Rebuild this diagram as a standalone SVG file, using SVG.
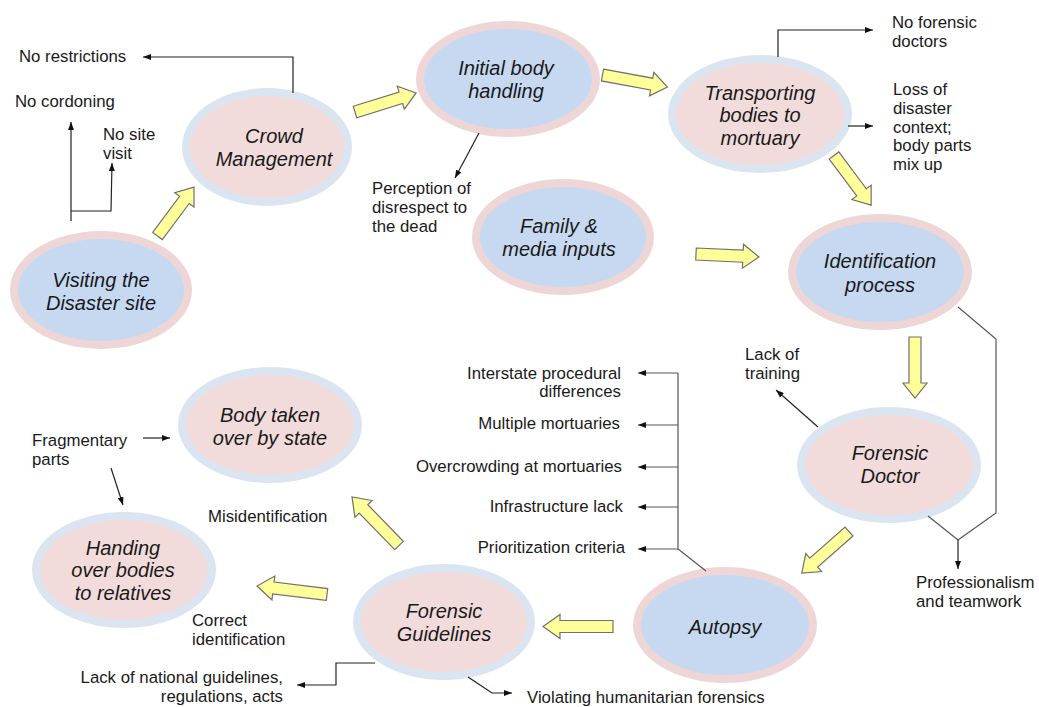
<svg xmlns="http://www.w3.org/2000/svg" width="1039" height="707" viewBox="0 0 1039 707">
<style>
.pk{fill:#f2dcdb}
.bl{fill:#c6d9f1}
.lb{fill:#dbe5f1}
.pr{fill:#efd6d6}
.nt{font-family:"Liberation Sans",Arial,sans-serif;font-size:20px;font-style:italic;fill:#1a1a1a;text-anchor:middle}
.lt{font-family:"Liberation Sans",Arial,sans-serif;font-size:16.8px;fill:#1a1a1a}
.ra{text-anchor:end}
.ya{fill:#ffff99;stroke:#707070;stroke-width:1.2}
.cn{fill:none;stroke:#222;stroke-width:1.2}
.cg{fill:none;stroke:#555;stroke-width:1.2}
</style>
<defs>
<marker id="ah" viewBox="0 0 8 6" refX="8" refY="3" markerWidth="8" markerHeight="6" markerUnits="userSpaceOnUse" orient="auto"><path d="M0,0 L8,3 L0,6 z" fill="#111"/></marker>
</defs>
<rect width="1039" height="707" fill="#fff"/>

<g id="n-visiting">
<ellipse cx="101" cy="290" rx="91" ry="59" class="pr"/>
<ellipse cx="101" cy="290" rx="83" ry="51" class="bl"/>
<text class="nt" x="101" y="287">Visiting the</text>
<text class="nt" x="101" y="310">Disaster site</text>
</g>
<g id="n-crowd">
<ellipse cx="267" cy="147" rx="85" ry="59" class="lb"/>
<ellipse cx="267" cy="147" rx="77" ry="51" class="pk"/>
<text class="nt" x="274" y="143">Crowd</text>
<text class="nt" x="274" y="166">Management</text>
</g>
<g id="n-initial">
<ellipse cx="508" cy="79" rx="92" ry="58" class="pr"/>
<ellipse cx="508" cy="79" rx="84" ry="50" class="bl"/>
<text class="nt" x="506" y="75">Initial body</text>
<text class="nt" x="506" y="98">handling</text>
</g>
<g id="n-transport">
<ellipse cx="760" cy="114" rx="92" ry="59" class="lb"/>
<ellipse cx="760" cy="114" rx="84" ry="51" class="pk"/>
<text class="nt" x="760" y="100">Transporting</text>
<text class="nt" x="760" y="122">bodies to</text>
<text class="nt" x="760" y="145">mortuary</text>
</g>
<g id="n-family">
<ellipse cx="563" cy="237" rx="91" ry="58" class="pr"/>
<ellipse cx="563" cy="237" rx="83" ry="50" class="bl"/>
<text class="nt" x="559" y="233">Family &amp;</text>
<text class="nt" x="559" y="256">media inputs</text>
</g>
<g id="n-ident">
<ellipse cx="880" cy="272" rx="92" ry="58" class="pr"/>
<ellipse cx="880" cy="272" rx="84" ry="50" class="bl"/>
<text class="nt" x="880" y="268">Identification</text>
<text class="nt" x="880" y="292">process</text>
</g>
<g id="n-doctor">
<ellipse cx="889" cy="465" rx="92" ry="58" class="lb"/>
<ellipse cx="889" cy="465" rx="84" ry="50" class="pk"/>
<text class="nt" x="890" y="460">Forensic</text>
<text class="nt" x="890" y="483">Doctor</text>
</g>
<g id="n-autopsy">
<ellipse cx="725" cy="625" rx="92" ry="58" class="pr"/>
<ellipse cx="725" cy="625" rx="84" ry="50" class="bl"/>
<text class="nt" x="725" y="634">Autopsy</text>
</g>
<g id="n-guidelines">
<ellipse cx="444" cy="622" rx="91" ry="58" class="lb"/>
<ellipse cx="444" cy="622" rx="83" ry="50" class="pk"/>
<text class="nt" x="444" y="618">Forensic</text>
<text class="nt" x="444" y="641">Guidelines</text>
</g>
<g id="n-state">
<ellipse cx="270" cy="425" rx="92" ry="58" class="lb"/>
<ellipse cx="270" cy="425" rx="84" ry="50" class="pk"/>
<text class="nt" x="270" y="422">Body taken</text>
<text class="nt" x="270" y="445">over by state</text>
</g>
<g id="n-handing">
<ellipse cx="124" cy="570" rx="92" ry="58" class="lb"/>
<ellipse cx="124" cy="570" rx="84" ry="50" class="pk"/>
<text class="nt" x="123" y="555">Handing</text>
<text class="nt" x="123" y="577">over bodies</text>
<text class="nt" x="123" y="600">to relatives</text>
</g>

<g id="labels">
<text class="lt" x="19" y="62">No restrictions</text>
<text class="lt" x="15" y="107">No cordoning</text>
<text class="lt" x="103" y="140">No site</text>
<text class="lt" x="103" y="159">visit</text>
<text class="lt" x="372" y="194">Perception of</text>
<text class="lt" x="372" y="213">disrespect to</text>
<text class="lt" x="372" y="232">the dead</text>
<text class="lt" x="892" y="28">No forensic</text>
<text class="lt" x="892" y="47">doctors</text>
<text class="lt" x="893" y="95">Loss of</text>
<text class="lt" x="893" y="114">disaster</text>
<text class="lt" x="893" y="133">context;</text>
<text class="lt" x="893" y="151">body parts</text>
<text class="lt" x="893" y="170">mix up</text>
<text class="lt" x="745" y="360">Lack of</text>
<text class="lt" x="745" y="379">training</text>
<text class="lt" x="916" y="588">Professionalism</text>
<text class="lt" x="916" y="607">and teamwork</text>
<text class="lt ra" x="621" y="379">Interstate procedural</text>
<text class="lt ra" x="621" y="397">differences</text>
<text class="lt ra" x="620" y="429">Multiple mortuaries</text>
<text class="lt ra" x="622" y="472">Overcrowding at mortuaries</text>
<text class="lt ra" x="623" y="512">Infrastructure lack</text>
<text class="lt ra" x="625" y="553">Prioritization criteria</text>
<text class="lt" x="32" y="446">Fragmentary</text>
<text class="lt" x="32" y="465">parts</text>
<text class="lt" x="208" y="522">Misidentification</text>
<text class="lt" x="192" y="626">Correct</text>
<text class="lt" x="192" y="645">identification</text>
<text class="lt ra" x="283" y="683">Lack of national guidelines,</text>
<text class="lt ra" x="283" y="702">regulations, acts</text>
<text class="lt" x="527" y="703">Violating humanitarian forensics</text>
</g>

<g id="flow-arrows" class="ya">
<polygon points="0,-6 45,-6 45,-12 61,0 45,12 45,6 0,6" transform="translate(157.5,236) rotate(-53.3)"/>
<polygon points="0,-6 48,-6 48,-12 64,0 48,12 48,6 0,6" transform="translate(355,112) rotate(-17.3)"/>
<polygon points="0,-6 50,-6 50,-12 66,0 50,12 50,6 0,6" transform="translate(602.5,75) rotate(10.5)"/>
<polygon points="0,-6 46,-6 46,-12 62,0 46,12 46,6 0,6" transform="translate(834,155.5) rotate(53.2)"/>
<polygon points="0,-6 47,-6 47,-12 63,0 47,12 47,6 0,6" transform="translate(696,254) rotate(2.7)"/>
<polygon points="0,-6 46,-6 46,-12 61,0 46,12 46,6 0,6" transform="translate(915,337) rotate(90)"/>
<polygon points="0,-6 47,-6 47,-12 63,0 47,12 47,6 0,6" transform="translate(849,531.5) rotate(138.6)"/>
<polygon points="0,-6 53,-6 53,-12 70,0 53,12 53,6 0,6" transform="translate(613,626.5) rotate(180)"/>
<polygon points="0,-6 51,-6 51,-12 67.5,0 51,12 51,6 0,6" transform="translate(399,545.5) rotate(-134.1)"/>
<polygon points="0,-6 54,-6 54,-12 70.5,0 54,12 54,6 0,6" transform="translate(327,594.5) rotate(-173.1)"/>
</g>

<g id="connectors">
<polyline class="cn" points="293,93 293,57 143,57" marker-end="url(#ah)"/>
<polyline class="cn" points="71,221 71,122" marker-end="url(#ah)"/>
<polyline class="cn" points="71,211 111,211 112,163" marker-end="url(#ah)"/>
<line class="cn" x1="479" y1="133" x2="455" y2="178" marker-end="url(#ah)"/>
<polyline class="cn" points="778,57 778,30 873,30" marker-end="url(#ah)"/>
<line class="cn" x1="848" y1="126" x2="873" y2="126" marker-end="url(#ah)"/>
<polyline class="cg" points="958,307 996,339 996,513 958,540"/>
<line class="cg" x1="928" y1="516" x2="958" y2="540"/>
<line class="cn" x1="958" y1="540" x2="958" y2="569" marker-end="url(#ah)"/>
<line class="cn" x1="818" y1="427" x2="776" y2="390" marker-end="url(#ah)"/>
<polyline class="cg" points="706,571 678,549 678,373"/>
<line class="cg" x1="678" y1="373" x2="638" y2="373" marker-end="url(#ah)"/>
<line class="cg" x1="678" y1="425" x2="638" y2="425" marker-end="url(#ah)"/>
<line class="cg" x1="678" y1="467" x2="638" y2="467" marker-end="url(#ah)"/>
<line class="cg" x1="678" y1="507" x2="638" y2="507" marker-end="url(#ah)"/>
<line class="cg" x1="678" y1="549" x2="638" y2="549" marker-end="url(#ah)"/>
<polyline class="cn" points="375,663 336,663 336,685 297,685" marker-end="url(#ah)"/>
<polyline class="cn" points="468,677 492,693 512,693" marker-end="url(#ah)"/>
<line class="cn" x1="143" y1="438" x2="170" y2="438" marker-end="url(#ah)"/>
<line class="cn" x1="111" y1="468" x2="123" y2="505" marker-end="url(#ah)"/>
</g>
</svg>
